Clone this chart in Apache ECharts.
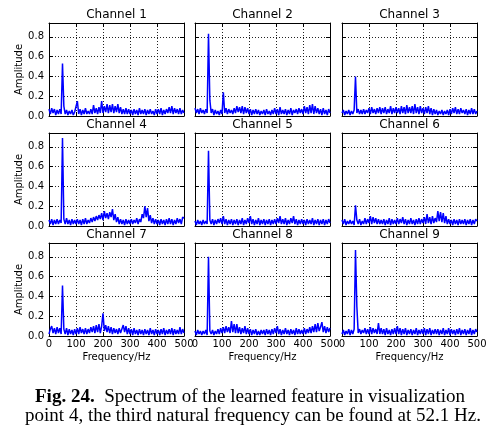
<!DOCTYPE html>
<html>
<head>
<meta charset="utf-8">
<script src="https://cdn.jsdelivr.net/npm/echarts@6/dist/echarts.min.js"></script>
<style>
html, body { margin: 0; padding: 0; background: #fff; }
#chart { width: 493px; height: 434px; }
</style>
</head>
<body>
<div id="chart"></div>
<script>
// frequency bins (Hz)
const freqs = [
  0, 5, 10, 15, 20, 25, 30, 35, 40, 45,
  50, 55, 60, 65, 70, 75, 80, 85, 90, 95,
  100, 105, 110, 115, 120, 125, 130, 135, 140, 145,
  150, 155, 160, 165, 170, 175, 180, 185, 190, 195,
  200, 205, 210, 215, 220, 225, 230, 235, 240, 245,
  250, 255, 260, 265, 270, 275, 280, 285, 290, 295,
  300, 305, 310, 315, 320, 325, 330, 335, 340, 345,
  350, 355, 360, 365, 370, 375, 380, 385, 390, 395,
  400, 405, 410, 415, 420, 425, 430, 435, 440, 445,
  450, 455, 460, 465, 470, 475, 480, 485, 490, 495,
  500
];

const channelNames = ['Channel 1', 'Channel 2', 'Channel 3', 'Channel 4', 'Channel 5',
  'Channel 6', 'Channel 7', 'Channel 8', 'Channel 9'];

const ch1 = [
  .07,.02,.08,.03,.07,.01,.06,.02,.07,.02,
  .53,.10,.02,.06,.01,.05,.02,.06,.01,.04,
  .02,.15,.02,.07,.01,.06,.02,.08,.02,.05,
  .02,.07,.02,.11,.03,.08,.02,.09,.03,.15,
  .03,.10,.04,.12,.03,.11,.04,.12,.03,.10,
  .04,.12,.03,.09,.02,.07,.02,.08,.02,.07,
  .02,.06,.01,.07,.02,.06,.01,.08,.02,.06,
  .02,.07,.01,.06,.02,.07,.02,.05,.01,.07,
  .02,.07,.02,.08,.01,.06,.02,.07,.03,.09,
  .03,.10,.02,.08,.03,.07,.02,.08,.02,.06,
  .03
];
const ch2 = [
  .08,.03,.07,.02,.08,.03,.06,.02,.07,.03,
  .83,.16,.03,.07,.01,.06,.02,.05,.01,.06,
  .02,.24,.03,.08,.02,.07,.03,.06,.02,.08,
  .03,.10,.04,.09,.03,.10,.02,.09,.03,.08,
  .02,.07,.01,.06,.02,.07,.02,.06,.01,.05,
  .02,.06,.01,.07,.02,.05,.01,.06,.02,.08,
  .02,.07,.01,.09,.02,.06,.02,.07,.01,.06,
  .02,.08,.01,.06,.03,.07,.02,.08,.03,.07,
  .02,.10,.03,.09,.02,.11,.03,.12,.02,.10,
  .03,.08,.02,.07,.01,.08,.02,.06,.01,.07,
  .03
];
const ch3 = [
  .03,.06,.01,.05,.02,.06,.01,.05,.02,.06,
  .40,.03,.07,.02,.06,.02,.07,.02,.06,.03,
  .08,.02,.09,.03,.07,.02,.08,.03,.09,.02,
  .08,.03,.09,.02,.07,.03,.10,.02,.08,.03,
  .09,.03,.08,.02,.10,.03,.09,.02,.11,.03,
  .09,.03,.10,.02,.12,.03,.09,.02,.10,.03,
  .08,.02,.09,.03,.10,.02,.08,.01,.07,.02,
  .06,.01,.05,.02,.06,.01,.05,.02,.06,.01,
  .07,.02,.08,.03,.09,.02,.07,.02,.08,.03,
  .06,.02,.07,.01,.06,.02,.08,.02,.07,.02,
  .05
];
const ch4 = [
  .06,.02,.07,.01,.06,.02,.07,.02,.06,.03,
  .89,.07,.02,.08,.02,.06,.01,.07,.02,.06,
  .02,.07,.02,.06,.01,.07,.02,.08,.02,.06,
  .03,.08,.04,.09,.05,.10,.06,.11,.07,.13,
  .06,.15,.08,.13,.07,.14,.09,.17,.06,.12,
  .04,.09,.02,.07,.02,.06,.01,.07,.02,.06,
  .02,.07,.02,.06,.03,.08,.02,.07,.04,.12,
  .08,.20,.09,.18,.05,.11,.03,.08,.02,.07,
  .02,.06,.01,.07,.02,.06,.01,.07,.02,.08,
  .02,.07,.01,.06,.02,.08,.03,.07,.02,.09,
  .08
];
const ch5 = [
  .05,.01,.06,.02,.05,.01,.06,.02,.05,.02,
  .76,.06,.02,.07,.01,.06,.02,.07,.03,.08,
  .02,.10,.02,.07,.01,.06,.02,.07,.01,.06,
  .02,.07,.01,.06,.02,.08,.01,.06,.02,.08,
  .03,.10,.02,.07,.01,.06,.02,.08,.01,.06,
  .02,.07,.01,.06,.02,.07,.01,.06,.02,.07,
  .02,.08,.03,.10,.02,.07,.02,.08,.01,.06,
  .02,.08,.03,.10,.02,.07,.01,.06,.02,.07,
  .02,.06,.01,.07,.02,.06,.02,.08,.01,.06,
  .02,.07,.01,.06,.02,.07,.01,.06,.02,.07,
  .03
];
const ch6 = [
  .06,.02,.07,.01,.05,.02,.06,.02,.05,.01,
  .21,.06,.02,.07,.01,.05,.02,.08,.02,.07,
  .03,.10,.02,.09,.03,.08,.02,.07,.02,.06,
  .02,.07,.01,.06,.02,.08,.01,.07,.02,.06,
  .02,.08,.02,.07,.03,.09,.02,.07,.01,.06,
  .02,.08,.02,.06,.01,.07,.02,.08,.02,.07,
  .03,.09,.02,.12,.03,.09,.02,.10,.03,.08,
  .04,.15,.05,.14,.04,.13,.03,.10,.02,.07,
  .02,.06,.01,.07,.02,.06,.01,.07,.02,.06,
  .02,.07,.01,.06,.02,.07,.01,.06,.02,.07,
  .05
];
const ch7 = [
  .02,.07,.10,.03,.08,.02,.09,.03,.08,.02,
  .51,.07,.02,.08,.01,.07,.02,.06,.01,.07,
  .02,.08,.02,.09,.03,.07,.02,.08,.02,.07,
  .03,.09,.04,.10,.03,.11,.04,.12,.03,.10,
  .23,.05,.11,.04,.10,.03,.09,.02,.08,.03,
  .07,.02,.08,.03,.07,.11,.04,.10,.02,.08,
  .02,.07,.01,.08,.02,.06,.01,.07,.02,.06,
  .01,.07,.02,.06,.01,.08,.02,.06,.01,.07,
  .02,.06,.01,.07,.02,.08,.01,.06,.02,.07,
  .02,.08,.01,.07,.02,.06,.02,.09,.02,.07,
  .03
];
const ch8 = [
  .05,.01,.06,.02,.05,.01,.05,.02,.06,.01,
  .80,.05,.02,.06,.01,.05,.02,.07,.02,.08,
  .03,.09,.03,.10,.04,.09,.03,.15,.04,.12,
  .03,.12,.03,.09,.02,.08,.03,.10,.02,.08,
  .02,.07,.01,.06,.02,.07,.01,.05,.01,.06,
  .02,.06,.01,.07,.02,.06,.01,.07,.02,.08,
  .03,.10,.02,.07,.01,.06,.02,.08,.02,.06,
  .01,.07,.02,.06,.01,.08,.02,.07,.02,.06,
  .02,.08,.02,.07,.03,.09,.03,.10,.04,.12,
  .04,.13,.05,.09,.14,.04,.10,.03,.09,.04,
  .08
];
const ch9 = [
  .02,.06,.01,.05,.02,.07,.01,.06,.02,.07,
  .87,.30,.03,.07,.02,.06,.03,.08,.02,.07,
  .02,.09,.02,.08,.03,.07,.02,.13,.02,.08,
  .02,.07,.01,.08,.02,.06,.01,.07,.02,.08,
  .02,.10,.02,.08,.01,.07,.02,.08,.01,.06,
  .02,.07,.01,.06,.02,.08,.01,.06,.02,.07,
  .02,.08,.01,.07,.02,.08,.01,.06,.02,.07,
  .02,.07,.01,.06,.02,.08,.01,.06,.02,.08,
  .01,.07,.02,.06,.01,.07,.02,.08,.01,.06,
  .02,.07,.01,.06,.02,.08,.01,.06,.02,.07,
  .04
];
const channels = [ch1, ch2, ch3, ch4, ch5, ch6, ch7, ch8, ch9];

const captionLine1 = '{b|Fig. 24.}  Spectrum of the learned feature in visualization';
const captionLine2 = 'point 4, the third natural frequency can be found at 52.1 Hz.';

// layout of the 3x3 panels (px)
const colLeft = [49, 195, 342];
const rowTop = [23, 133, 243];
const panelW = 135;
const panelH = 93;
const font = 'DejaVu Sans';

const grids = [], xAxes = [], yAxes = [], series = [], titles = [];
const frameLine = { show: true, onZero: false, lineStyle: { color: '#000', width: 1 } };
const tick = { show: true, inside: true, length: 4, lineStyle: { color: '#000', width: 1 } };
const grid = { show: true, showMinLine: false, showMaxLine: false,
  lineStyle: { color: '#222', width: 1, type: [1, 2] } };

channels.forEach((vals, i) => {
  const r = Math.floor(i / 3), c = i % 3;
  grids.push({ left: colLeft[c], top: rowTop[r], width: panelW, height: panelH });
  titles.push({
    text: channelNames[i], left: colLeft[c] + panelW / 2, top: rowTop[r] - 14,
    textAlign: 'center', padding: 0,
    textStyle: { fontFamily: font, fontSize: 12, fontWeight: 'normal', color: '#000' }
  });
  xAxes.push({
    gridIndex: i, type: 'value', min: 0, max: 500, interval: 100, position: 'bottom',
    axisLine: frameLine, axisTick: tick, splitLine: grid,
    axisLabel: { show: r === 2, margin: 3, fontFamily: font, fontSize: 10, color: '#000' },
    name: r === 2 ? 'Frequency/Hz' : '', nameLocation: 'middle', nameGap: 16,
    nameTextStyle: { fontFamily: font, fontSize: 10, color: '#000' }
  });
  yAxes.push({
    gridIndex: i, type: 'value', min: 0, max: 0.94, interval: 0.2, position: 'left',
    axisLine: frameLine, axisTick: tick, splitLine: grid,
    axisLabel: { show: c === 0, margin: 5, showMaxLabel: false, fontFamily: font, fontSize: 10,
      color: '#000', formatter: v => v.toFixed(1) },
    name: c === 0 ? 'Amplitude' : '', nameLocation: 'middle', nameGap: 23, nameRotate: 90,
    nameTextStyle: { fontFamily: font, fontSize: 10, color: '#000' }
  });
  series.push({
    type: 'line', xAxisIndex: i, yAxisIndex: i, showSymbol: false, symbol: 'none',
    lineStyle: { color: '#0000ff', width: 1.5 }, data: freqs.map((f, k) => [f, vals[k]])
  });
});

// ticks on the top and right edges, like the matplotlib frame
channels.forEach((vals, i) => {
  xAxes.push({
    gridIndex: i, type: 'value', min: 0, max: 500, interval: 100, position: 'top',
    axisLine: frameLine, axisTick: tick, axisLabel: { show: false }, splitLine: { show: false }
  });
  yAxes.push({
    gridIndex: i, type: 'value', min: 0, max: 0.94, interval: 0.2, position: 'right',
    axisLine: frameLine, axisTick: tick, axisLabel: { show: false }, splitLine: { show: false }
  });
});

const capStyle = { fontFamily: 'Liberation Serif', fontSize: 19, fontWeight: 'normal', color: '#000',
  rich: { b: { fontFamily: 'Liberation Serif', fontSize: 19, fontWeight: 'bold', color: '#000' } } };
titles.push({ text: captionLine1, left: 250, top: 388, textAlign: 'center', padding: 0, textStyle: capStyle });
titles.push({ text: captionLine2, left: 253, top: 407, textAlign: 'center', padding: 0, textStyle: capStyle });

const chart = echarts.init(document.getElementById('chart'));
chart.setOption({
  backgroundColor: '#fff',
  animation: false,
  title: titles,
  grid: grids,
  xAxis: xAxes,
  yAxis: yAxes,
  series: series
});
</script>
</body>
</html>
